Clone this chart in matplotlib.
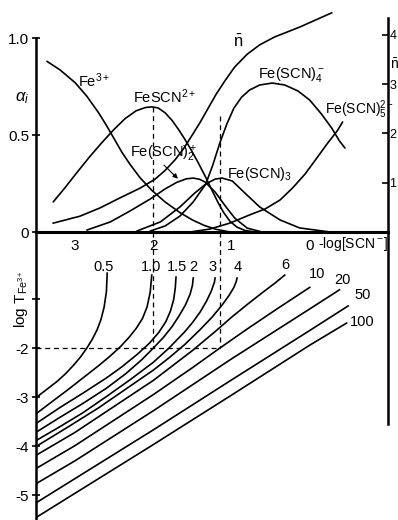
import numpy as np
import matplotlib
matplotlib.use("Agg")
import matplotlib.pyplot as plt

plt.rcParams['font.family'] = ['Liberation Sans', 'DejaVu Sans']
plt.rcParams['mathtext.fontset'] = 'custom'
plt.rcParams['mathtext.rm'] = 'Liberation Sans'
plt.rcParams['mathtext.it'] = 'Liberation Sans:italic'
plt.rcParams['mathtext.bf'] = 'Liberation Sans:bold'

# ---- upper panel: fractions alpha_i vs -log[SCN-] ----
fe_x = [3.36, 3.19, 3.00, 2.85, 2.70, 2.60, 2.50, 2.40, 2.30, 2.17, 2.02, 1.85, 1.66, 1.50, 1.35, 1.20, 1.02]
fe_a = [0.88, 0.835, 0.77, 0.70, 0.615, 0.55, 0.48, 0.41, 0.35, 0.28, 0.215, 0.155, 0.10, 0.062, 0.034, 0.014, 0.0]

c1_x = [3.28, 3.13, 2.98, 2.82, 2.66, 2.50, 2.36, 2.22, 2.10, 2.02, 1.94, 1.85, 1.76, 1.68, 1.60,
        1.53, 1.43, 1.34, 1.25, 1.17, 1.10, 1.02, 0.93, 0.83, 0.70]
c1_a = [0.155, 0.228, 0.305, 0.385, 0.46, 0.53, 0.585, 0.625, 0.642, 0.645, 0.64, 0.615, 0.575, 0.53, 0.48,
        0.433, 0.36, 0.29, 0.215, 0.15, 0.10, 0.055, 0.025, 0.008, 0.0]

c2_x = [2.85, 2.55, 2.30, 2.04, 1.85, 1.70, 1.58, 1.49, 1.41, 1.34, 1.21, 1.08, 0.96, 0.80, 0.61]
c2_a = [0.01, 0.052, 0.108, 0.17, 0.222, 0.256, 0.274, 0.278, 0.272, 0.258, 0.206, 0.134, 0.072, 0.02, 0.0]

c3_x = [2.21, 1.91, 1.66, 1.47, 1.33, 1.21, 1.12, 0.99, 0.83, 0.64, 0.38, 0.13, -0.26]
c3_a = [0.005, 0.052, 0.129, 0.201, 0.247, 0.273, 0.278, 0.263, 0.201, 0.129, 0.062, 0.021, 0.0]

c4_x = [2.04, 1.85, 1.66, 1.49, 1.33, 1.24, 1.15, 1.06, 0.97, 0.87, 0.77, 0.64, 0.48, 0.32, 0.15, 0.0, -0.15, -0.28, -0.38, -0.45]
c4_a = [0.005, 0.031, 0.082, 0.155, 0.247, 0.345, 0.459, 0.557, 0.639, 0.696, 0.732, 0.758, 0.768, 0.758, 0.727, 0.68, 0.608, 0.536, 0.469, 0.433]

c5_x = [1.53, 1.28, 1.02, 0.77, 0.57, 0.38, 0.22, 0.06, -0.10, -0.23, -0.35, -0.42]
c5_a = [0.0, 0.015, 0.046, 0.088, 0.119, 0.165, 0.227, 0.299, 0.387, 0.459, 0.521, 0.567]

nbar_x = [3.28, 2.94, 2.68, 2.43, 2.17, 1.98, 1.85, 1.72, 1.61, 1.51, 1.40, 1.30, 1.20, 1.08, 0.96, 0.80, 0.64, 0.45, 0.13, -0.28]
nbar_y = [0.18, 0.32, 0.49, 0.69, 0.89, 1.07, 1.25, 1.47, 1.70, 1.95, 2.23, 2.51, 2.79, 3.08, 3.35, 3.61, 3.80, 3.96, 4.16, 4.45]

# ---- lower panel: log T_Fe vs -log[SCN-] for ratios ----
ratio_labels = ['0.5', '1.0', '1.5', '2', '3', '4', '6', '10', '20', '50', '100']
r05_x = [3.49, 3.36, 3.23, 3.12, 3.02, 2.93, 2.85, 2.78, 2.72, 2.67, 2.63, 2.60, 2.59]
r05_y = [-3.0, -2.84, -2.68, -2.52, -2.35, -2.18, -2.0, -1.82, -1.63, -1.42, -1.17, -0.85, -0.47]
r10_x = [3.49, 3.30, 3.10, 2.90, 2.70, 2.55, 2.42, 2.31, 2.22, 2.14, 2.08, 2.04, 2.02]
r10_y = [-3.33, -3.10, -2.86, -2.61, -2.36, -2.16, -1.97, -1.78, -1.60, -1.40, -1.16, -0.86, -0.51]
r15_x = [3.49, 3.20, 2.90, 2.60, 2.40, 2.20, 2.05, 1.93, 1.84, 1.78, 1.74, 1.72, 1.71]
r15_y = [-3.53, -3.22, -2.92, -2.61, -2.38, -2.12, -1.90, -1.68, -1.46, -1.24, -1.01, -0.78, -0.55]
r2_x = [3.49, 3.20, 2.90, 2.60, 2.35, 2.15, 2.00, 1.87, 1.76, 1.67, 1.59, 1.53, 1.50, 1.49]
r2_y = [-3.71, -3.42, -3.13, -2.82, -2.52, -2.24, -2.00, -1.78, -1.56, -1.34, -1.12, -0.90, -0.72, -0.57]
r3_x = [3.49, 3.20, 2.90, 2.60, 2.30, 2.00, 1.80, 1.60, 1.50, 1.40, 1.32, 1.26, 1.22, 1.21]
r3_y = [-3.88, -3.61, -3.32, -2.99, -2.65, -2.29, -2.00, -1.67, -1.48, -1.26, -1.04, -0.84, -0.66, -0.57]
r4_x = [3.49, 3.10, 2.70, 2.30, 2.00, 1.80, 1.60, 1.40, 1.25, 1.12, 1.03, 0.97, 0.94, 0.93]
r4_y = [-4.0, -3.62, -3.22, -2.78, -2.45, -2.20, -1.93, -1.62, -1.37, -1.12, -0.92, -0.76, -0.64, -0.57]
r6_x = [3.49, 3.00, 2.50, 2.00, 1.50, 1.20, 1.00, 0.80, 0.60, 0.45, 0.32]
r6_y = [-4.18, -3.72, -3.19, -2.66, -2.05, -1.65, -1.37, -1.11, -0.86, -0.68, -0.51]
r10b_x = [3.49, 3.00, 2.50, 2.00, 1.50, 1.15, 0.80, 0.40, 0.00]
r10b_y = [-4.45, -3.99, -3.47, -2.95, -2.40, -2.00, -1.61, -1.18, -0.76]
r20_x = [3.49, 3.00, 2.00, 1.50, 1.00, 0.50, 0.00, -0.38]
r20_y = [-4.76, -4.30, -3.28, -2.75, -2.22, -1.71, -1.20, -0.81]
r50_x = [3.49, 2.00, 1.00, 0.00, -0.49]
r50_y = [-5.15, -3.67, -2.65, -1.64, -1.14]
r100_x = [3.49, 2.00, 1.00, 0.00, -0.47]
r100_y = [-5.45, -3.97, -2.96, -1.94, -1.49]

# label spots for the ratio curves
lab_x = [2.63, 2.03, 1.70, 1.49, 1.24, 0.92, 0.31, -0.09, -0.42, -0.68, -0.67]
lab_y = [-0.35, -0.35, -0.35, -0.35, -0.35, -0.35, -0.31, -0.49, -0.61, -0.92, -1.47]

# worked example (dashed)
ex1_p, ex1_a = 2.0, 0.645
ex2_p, ex2_a = 1.15, 0.60
ex_logT = -2.0

curves_bottom = [(r05_x, r05_y), (r10_x, r10_y), (r15_x, r15_y), (r2_x, r2_y),
                 (r3_x, r3_y), (r4_x, r4_y), (r6_x, r6_y), (r10b_x, r10b_y),
                 (r20_x, r20_y), (r50_x, r50_y), (r100_x, r100_y)]

W, H = 398, 520
fig = plt.figure(figsize=(W / 100, H / 100), dpi=100)
x0, x1 = 36, 388
ax2 = fig.add_axes([x0 / W, 0, (x1 - x0) / W, 288 / H])
ax1 = fig.add_axes([x0 / W, (H - 232) / H, (x1 - x0) / W, 224 / H])
ax1r = ax1.twinx()
ax1.patch.set_visible(False)
ax2.patch.set_visible(False)

xlim = (3.5, -1.0)
lw = 1.2
col = 'black'
dash = (0, (4, 3))

# top
for xs, ys in [(fe_x, fe_a), (c1_x, c1_a), (c2_x, c2_a), (c3_x, c3_a), (c4_x, c4_a), (c5_x, c5_a)]:
    ax1.plot(xs, ys, color=col, lw=lw, solid_capstyle='round')
ax1r.plot(nbar_x, nbar_y, color=col, lw=lw)

ax1.plot([ex1_p, ex1_p], [ex1_a, 0], color=col, lw=0.9, ls=dash)
ax1.plot([ex2_p, ex2_p], [ex2_a, 0], color=col, lw=0.9, ls=dash)

ax1.set_xlim(xlim)
ax1.set_ylim(0, 1.155)
ax1r.set_ylim(0, 4.548)
ax1r.set_xlim(xlim)

for s in ['top', 'right']:
    ax1.spines[s].set_visible(False)
for s in ['top', 'left', 'bottom']:
    ax1r.spines[s].set_visible(False)
ax1.spines['left'].set_bounds(0, 1.0)
ax1.spines['left'].set_linewidth(1.8)
ax1.spines['bottom'].set_linewidth(2.2)
ax1r.spines['right'].set_bounds(0, 4.35)
ax1r.spines['right'].set_linewidth(1.8)

ax1.set_yticks([0, 0.5, 1.0])
ax1.set_yticklabels(['0', '0.5', '1.0'], fontsize=11)
ax1.tick_params(axis='y', direction='inout', length=6, width=1.2, pad=2)
ax1.set_xticks([3, 2, 1, 0])
ax1.set_xticklabels(['3', '2', '1', '0'], fontsize=11)
ax1.tick_params(axis='x', length=0, pad=5)
ax1r.set_yticks([1, 2, 3, 4])
ax1r.set_yticklabels(['1', '2', '3', '4'], fontsize=9)
ax1r.tick_params(axis='y', direction='in', length=4, width=1.2, pad=1)

fs = 10.5
ax1.text(3.68, 0.69, r'$\alpha_i$', fontsize=12, ha='center', va='center', clip_on=False)
ax1.text(2.96, 0.78, r'Fe$^{3+}$', fontsize=fs, ha='left', va='center')
ax1.text(2.26, 0.70, r'FeSCN$^{2+}$', fontsize=fs, ha='left', va='center')
ax1.text(2.30, 0.40, r'Fe(SCN)$_2^+$', fontsize=fs, ha='left', va='center')
ax1.annotate('', xy=(1.66, 0.265), xytext=(1.89, 0.355),
             arrowprops=dict(arrowstyle='-|>', color=col, lw=0.8, mutation_scale=7))
ax1.text(1.06, 0.30, r'Fe(SCN)$_3$', fontsize=fs, ha='left', va='center')
ax1.text(0.66, 0.81, r'Fe(SCN)$_4^-$', fontsize=fs, ha='left', va='center')
ax1.text(-0.19, 0.63, r'Fe(SCN)$_5^{2-}$', fontsize=10, ha='left', va='center')
ax1.text(0.92, 0.98, r'$\bar{\mathrm{n}}$', fontsize=12, ha='center', va='center')
ax1r.text(-1.03, 3.4, r'$\bar{\mathrm{n}}$', fontsize=10, ha='left', va='center', clip_on=False)

# bottom
for (xs, ys) in curves_bottom:
    ax2.plot(xs, ys, color=col, lw=lw)
for lab, lx, ly in zip(ratio_labels, lab_x, lab_y):
    ax2.text(lx, ly, lab, fontsize=fs, ha='center', va='center')

ax2.plot([ex1_p, ex1_p], [0.37, ex_logT], color=col, lw=0.9, ls=dash)
ax2.plot([ex2_p, ex2_p], [0.37, ex_logT], color=col, lw=0.9, ls=dash)
ax2.plot([3.5, ex2_p], [ex_logT, ex_logT], color=col, lw=0.9, ls=dash)

ax2.set_xlim(xlim)
ax2.set_ylim(-5.51, 0.37)
ax2.spines['top'].set_visible(False)
ax2.spines['bottom'].set_visible(False)
ax2.spines['left'].set_linewidth(1.8)
ax2.spines['right'].set_linewidth(1.8)
ax2.spines['right'].set_bounds(-3.55, 0.37)
ax2.set_xticks([])
ax2.set_yticks([-1, -2, -3, -4, -5])
ax2.set_yticklabels(['', '-2', '-3', '-4', '-5'], fontsize=11)
ax2.tick_params(axis='y', direction='inout', length=6, width=1.2, pad=2)
ax2.tick_params(axis='y', right=False)
ax2.text(3.69, -1.0, r'log T$_{\mathrm{Fe}^{3+}}$', fontsize=11, rotation=90,
         ha='center', va='center', clip_on=False)
ax2.text(-0.10, 0.12, r'-log[SCN$^-$]', fontsize=10, ha='left', va='center')

fig.savefig('out.png', dpi=100)
